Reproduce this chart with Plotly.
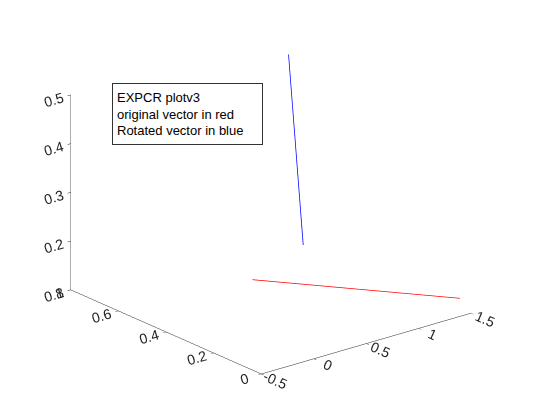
import plotly.graph_objects as go

# Data
red_x = [0.55, 1.50]
red_y = [0.50, 0.048]
red_z = [0.12, 0.12]

blue_x = [1.28, 1.42]
blue_y = [0.67, 0.67]
blue_z = [0.50, 0.10]

x_ticks = [-0.5, 0, 0.5, 1, 1.5]
y_ticks = [0, 0.2, 0.4, 0.6, 0.8]
z_ticks = [0.1, 0.2, 0.3, 0.4, 0.5]

note_lines = ["EXPCR plotv3", "original vector in red", "Rotated vector in blue"]

fig = go.Figure()
fig.add_trace(go.Scatter3d(x=red_x, y=red_y, z=red_z, mode="lines",
                           line=dict(color="#ff0000", width=1.5), showlegend=False, hoverinfo="skip"))
fig.add_trace(go.Scatter3d(x=blue_x, y=blue_y, z=blue_z, mode="lines",
                           line=dict(color="#0000ff", width=1.5), showlegend=False, hoverinfo="skip"))

def ax(rng, ticks):
    return dict(range=rng, tickvals=ticks, ticktext=[("%g" % t) for t in ticks],
                showbackground=False, showgrid=False, zeroline=False,
                showline=True, linecolor="#262626", linewidth=1,
                ticks="outside", ticklen=4, tickcolor="#262626",
                tickfont=dict(family="Liberation Sans, Arial", size=13, color="#262626"),
                title=dict(text=""), showspikes=False, autorange=False)

s = 1.43
fig.update_layout(
    width=560, height=420,
    paper_bgcolor="white", plot_bgcolor="white",
    margin=dict(l=0, r=0, t=0, b=0),
    scene=dict(
        domain=dict(x=[0.019, 0.919], y=[0.083, 0.983]),
        xaxis=ax([-0.5, 1.5], x_ticks),
        yaxis=ax([0, 0.8], y_ticks),
        zaxis=ax([0.1, 0.5], z_ticks),
        aspectmode="manual",
        aspectratio=dict(x=1 * s, y=1.12 * s, z=0.75 * s * 1.03),
        camera=dict(projection=dict(type="orthographic"),
                    eye=dict(x=-1.2, y=-1.48, z=0.73),
                    center=dict(x=0, y=0, z=0),
                    up=dict(x=0, y=0, z=1)),
    ),
    annotations=[dict(
        text="<br>".join(note_lines), xref="paper", yref="paper",
        x=104/560, y=1-75/420, xanchor="left", yanchor="top",
        showarrow=False, align="left", valign="middle",
        width=141, height=52,
        font=dict(family="Liberation Sans, Arial", size=13, color="black"),
        bordercolor="#333333", borderwidth=1, borderpad=4, bgcolor="white")],
)

fig.write_html("out.html")
